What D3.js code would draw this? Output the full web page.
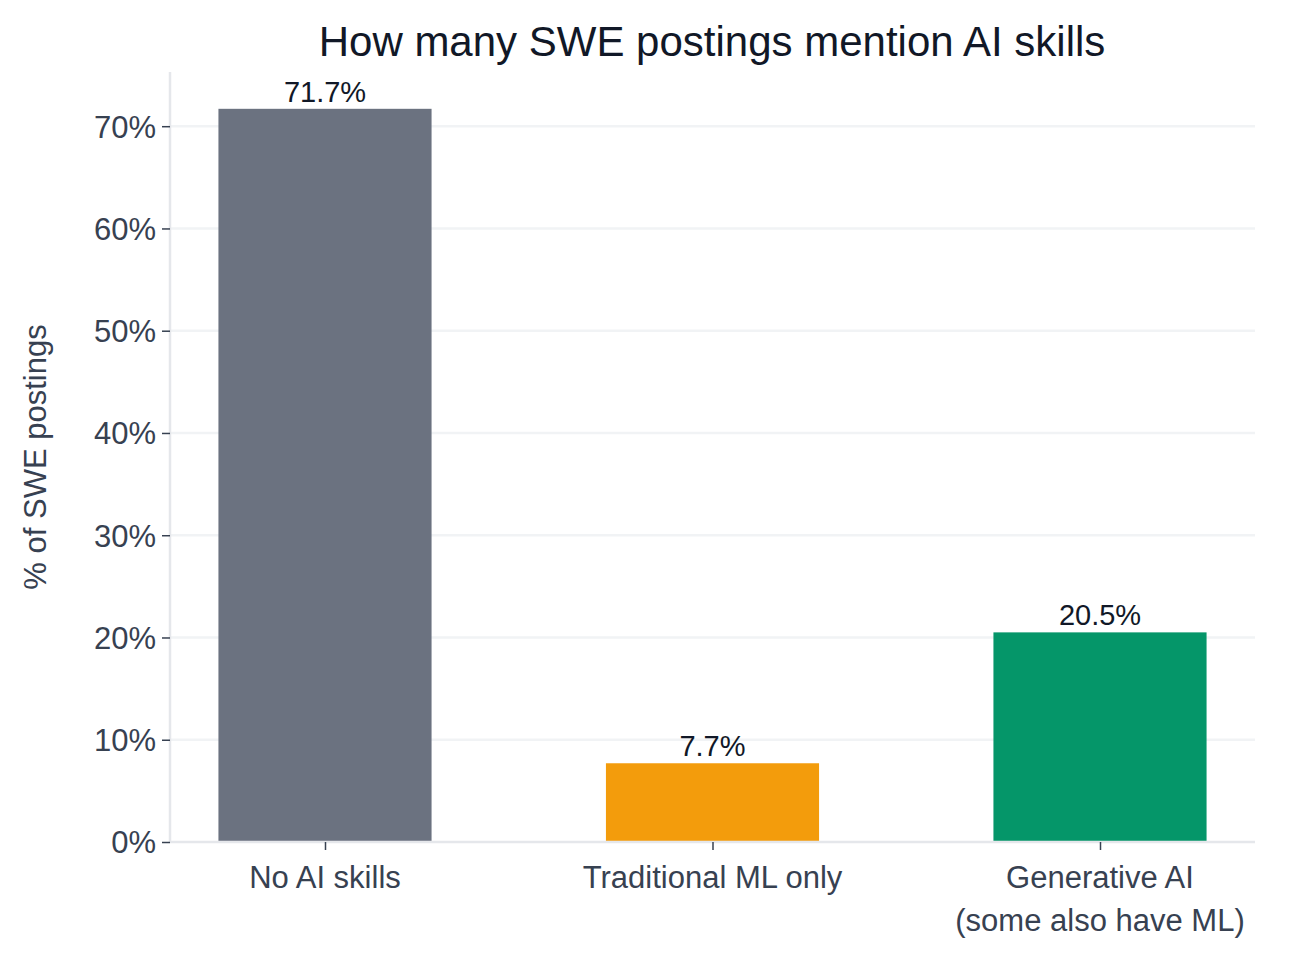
<!DOCTYPE html>
<html><head><meta charset="utf-8">
<script src="https://cdn.jsdelivr.net/npm/d3@7"></script>
<style>body{margin:0;background:#fff}text{font-family:"Liberation Sans",Arial,sans-serif}</style>
</head><body><svg id="c" width="1297" height="960"></svg>
<script>
const categories=[["No AI skills"],["Traditional ML only"],["Generative AI","(some also have ML)"]];
const values=[71.7,7.7,20.5];
const colors=["#6b7280","#f39c0c","#059669"];
const yTicks=[0,10,20,30,40,50,60,70];

const svg=d3.select("#c");
const x=d3.scaleLinear().domain([-0.4,2.4]).range([170,1255]);
const y=d3.scaleLinear().domain([0,75.3]).range([842,72]);
const bw=x(0.55)-x(0);

svg.append("g").selectAll("line").data(yTicks.slice(1)).join("line")
 .attr("x1",170).attr("x2",1255).attr("y1",d=>y(d)).attr("y2",d=>y(d))
 .attr("stroke","#f1f3f5").attr("stroke-width",2.5);

svg.append("g").selectAll("rect").data(values).join("rect")
 .attr("x",(d,i)=>x(i)-bw/2).attr("width",bw)
 .attr("y",d=>y(d)).attr("height",d=>y(0)-y(d)).attr("fill",(d,i)=>colors[i]);

svg.append("g").selectAll("text").data(values).join("text")
 .attr("x",(d,i)=>x(i)).attr("y",d=>y(d)-7).attr("text-anchor","middle")
 .attr("font-size",29).attr("fill","#111827").text(d=>d.toFixed(1)+"%");

const ya=svg.append("g").attr("transform","translate(170,0)")
 .call(d3.axisLeft(y).tickValues(yTicks).tickFormat(d=>d+"%").tickSize(8).tickPadding(6));
const xa=svg.append("g").attr("transform","translate(0,842)")
 .call(d3.axisBottom(x).tickValues([0,1,2]).tickFormat("").tickSize(8));
[ya,xa].forEach(a=>{a.select(".domain").attr("stroke","#e5e7eb").attr("stroke-width",2.5);
 a.selectAll(".tick line").attr("stroke","#374151").attr("stroke-width",1.5);});
ya.select(".domain").attr("d","M0,72V842");
xa.select(".domain").attr("d","M170,0H1255");
ya.selectAll(".tick text").attr("font-size",31).attr("fill","#374151").attr("dy","0.35em");

categories.forEach((lines,i)=>{
 lines.forEach((l,j)=>svg.append("text").attr("x",x(i)).attr("y",888+j*43)
  .attr("text-anchor","middle").attr("font-size",31).attr("fill","#374151").text(l));
});

svg.append("text").attr("transform","translate(46,457) rotate(-90)").attr("text-anchor","middle")
 .attr("font-size",31).attr("fill","#374151").text("% of SWE postings");
svg.append("text").attr("x",712).attr("y",56).attr("text-anchor","middle")
 .attr("font-size",42).attr("fill","#111827").text("How many SWE postings mention AI skills");
</script></body></html>
